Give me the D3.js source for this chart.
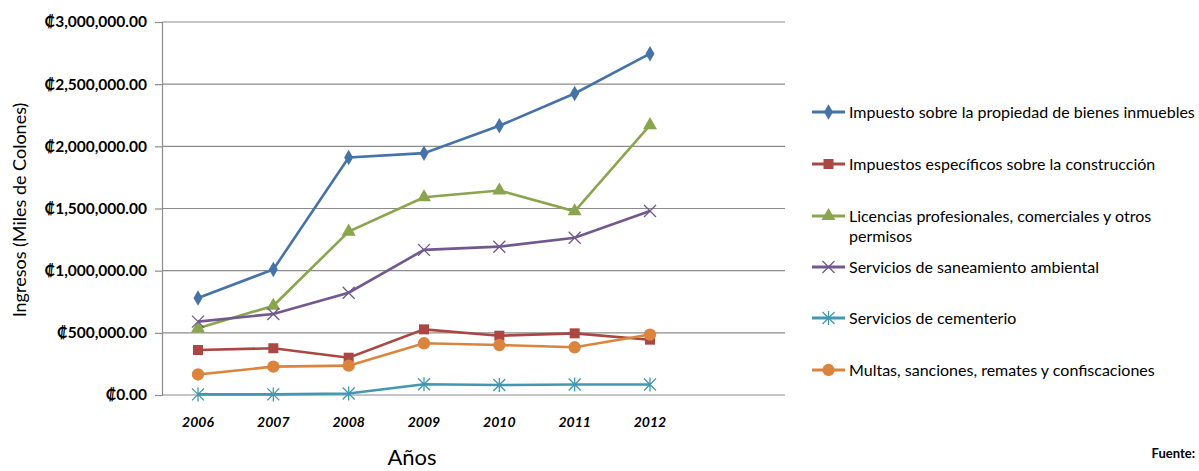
<!DOCTYPE html>
<html>
<head>
<meta charset="utf-8">
<script src="https://cdn.jsdelivr.net/npm/d3@7"></script>
<style>
  body { margin: 0; background: #fff; }
  svg { display: block; }
  text { font-family: Lato, "Open Sans", sans-serif; fill: #000; }
</style>
</head>
<body>
<svg id="chart"></svg>
<script>
// years on the x axis
const years = ["2006", "2007", "2008", "2009", "2010", "2011", "2012"];

// series values (miles de colones)
const propiedad    = [780000, 1010000, 1910000, 1945000, 2165000, 2425000, 2745000];
const construccion = [362000, 376000, 300000, 528000, 477000, 496000, 445000];
const licencias    = [536000, 718000, 1314000, 1590000, 1645000, 1478000, 2170000];
const saneamiento  = [590000, 652000, 823000, 1167000, 1193000, 1265000, 1480000];
const cementerio   = [5000, 5000, 12000, 86000, 80000, 84000, 85000];
const multas       = [165000, 228000, 236000, 416000, 402000, 384000, 486000];

const seriesNames = [
  "Impuesto sobre la propiedad de bienes inmuebles",
  "Impuestos específicos sobre la construcción",
  "Licencias profesionales, comerciales y otros|permisos",
  "Servicios de saneamiento ambiental",
  "Servicios de cementerio",
  "Multas, sanciones, remates y confiscaciones"
];
const yTicks = [0, 500000, 1000000, 1500000, 2000000, 2500000, 3000000];

const colors  = ["#4572A7", "#AA4643", "#89A54E", "#71588F", "#4198AF", "#DB843D"];
const symbols = ["diamond", "square", "triangle", "x", "star", "circle"];

const W = 1199, H = 471;
const svg = d3.select("#chart").attr("width", W).attr("height", H);

const plot = {left: 162, right: 785, top: 22, bottom: 395};

let x = d3.scalePoint()
          .domain(years)
          .range([198, 650]);   // categories sit left of the plot's right edge

let y = d3.scaleLinear()
          .domain([0, 3000000])
          .range([plot.bottom, plot.top]);

let colon = v => "\u20A1" + d3.format(",.2f")(v);

// gridlines
svg.append("g")
  .selectAll("line")
  .data(yTicks.slice(1))
  .join("line")
    .attr("x1", plot.left).attr("x2", plot.right)
    .attr("y1", d => y(d)).attr("y2", d => y(d))
    .attr("stroke", "#8c8c8c").attr("stroke-width", 1.2);

// y axis
let yAxis = svg.append("g")
  .attr("transform", `translate(${plot.left},0)`)
  .call(d3.axisLeft(y).tickValues(yTicks).tickFormat(colon).tickSize(7).tickPadding(8));
yAxis.attr("font-family", null);
yAxis.select(".domain").attr("stroke", "#8c8c8c").attr("stroke-width", 1.2);
yAxis.selectAll(".tick line").attr("stroke", "#8c8c8c").attr("stroke-width", 1.2);
yAxis.selectAll(".tick text")
  .attr("font-size", 15.5).attr("font-weight", "bold")
  .attr("fill", "#222");

// x axis line
svg.append("line")
  .attr("x1", plot.left).attr("x2", plot.right)
  .attr("y1", plot.bottom).attr("y2", plot.bottom)
  .attr("stroke", "#8c8c8c").attr("stroke-width", 1.2);

// x tick labels
svg.append("g")
  .selectAll("text")
  .data(years)
  .join("text")
    .attr("x", d => x(d)).attr("y", 427)
    .attr("text-anchor", "middle")
    .attr("font-size", 14).attr("font-weight", "bold").attr("font-style", "italic")
    .text(d => d);

// axis titles
svg.append("text")
  .attr("transform", "translate(26,210) rotate(-90)")
  .attr("text-anchor", "middle")
  .attr("font-size", 18)
  .text("Ingresos (Miles de Colones)");

svg.append("text")
  .attr("x", 412).attr("y", 465)
  .attr("text-anchor", "middle")
  .attr("font-size", 22)
  .text("Años");

svg.append("text")
  .attr("x", 1195).attr("y", 458)
  .attr("text-anchor", "end")
  .attr("font-size", 13).attr("font-weight", "bold")
  .text("Fuente:");

// markers
function marker(g, type, color) {
  if (type === "x" || type === "star") {
    let s = 6;
    g.append("path")
      .attr("d", type === "x"
        ? `M${-s},${-s}L${s},${s}M${-s},${s}L${s},${-s}`
        : `M${-s},${-s}L${s},${s}M${-s},${s}L${s},${-s}M0,${-s - 1}V${s + 1}`)
      .attr("stroke", color).attr("stroke-width", 1.3).attr("fill", "none");
    return;
  }
  let sym = {diamond: d3.symbolDiamond, square: d3.symbolSquare,
             triangle: d3.symbolTriangle, circle: d3.symbolCircle}[type];
  let size = {diamond: 70, square: 100, triangle: 85, circle: 120}[type];
  g.append("path")
    .attr("d", d3.symbol().type(sym).size(size)())
    .attr("fill", color);
}

const allSeries = [propiedad, construccion, licencias, saneamiento, cementerio, multas];

let line = d3.line()
             .x((d, i) => x(years[i]))
             .y(d => y(d));

allSeries.forEach((vals, k) => {
  let g = svg.append("g").attr("class", "series");
  g.append("path")
    .attr("d", line(vals))
    .attr("fill", "none")
    .attr("stroke", colors[k])
    .attr("stroke-width", 2.6);
  g.selectAll(".pt")
    .data(vals)
    .join("g")
      .attr("class", "pt")
      .attr("transform", (d, i) => `translate(${x(years[i])},${y(d)})`)
      .each(function() { marker(d3.select(this), symbols[k], colors[k]); });
});

// legend
let legendY = [112, 164, 216, 267, 318, 370];
seriesNames.forEach((name, k) => {
  let g = svg.append("g").attr("transform", `translate(812,${legendY[k]})`);
  g.append("line")
    .attr("x1", 0).attr("x2", 33)
    .attr("stroke", colors[k]).attr("stroke-width", 2.8);
  let m = g.append("g").attr("transform", "translate(16.5,0)");
  marker(m, symbols[k], colors[k]);
  let t = g.append("text")
    .attr("x", 37).attr("y", 6)
    .attr("font-size", 16);
  name.split("|").forEach((part, j) => {
    t.append("tspan").attr("x", 37).attr("dy", j ? 20 : 0).text(part);
  });
});
</script>
</body>
</html>
